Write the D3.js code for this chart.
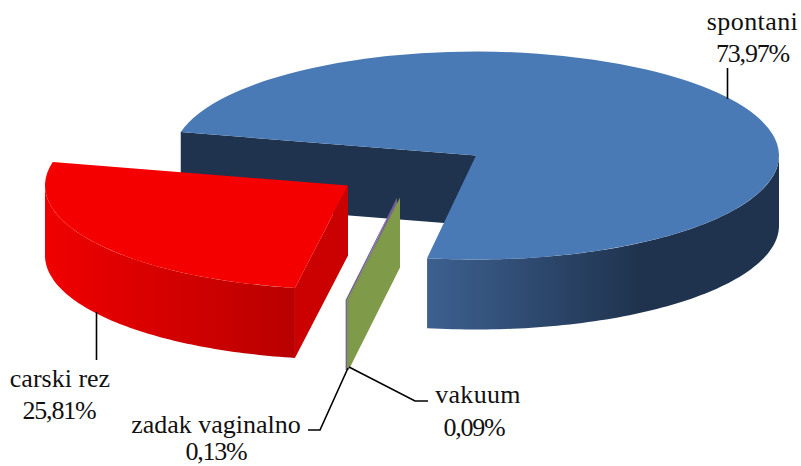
<!DOCTYPE html>
<html>
<head>
<meta charset="utf-8">
<script src="https://cdn.jsdelivr.net/npm/d3@7"></script>
<style>
  body { margin: 0; background: #fff; }
  text { font-family: "Liberation Serif", serif; font-size: 26px; fill: #111; text-anchor: middle; }
</style>
</head>
<body>
<div id="container"></div>
<script>
const categories = ['spontani', 'zadak vaginalno', 'vakuum', 'carski rez'];
const shares = [73.97, 0.13, 0.09, 25.81];
const shareLabels = ['73,97%', '0,13%', '0,09%', '25,81%'];

const width = 801;
const height = 466;

// pie geometry in px
const cx = 476;
const cy = 155.5;
const rx = 303;
const ry = 104;
const depth = 70;
const firstAngle = 283 * Math.PI / 180;

// how far each slice is pulled out, same order as categories
const explode = [[0, 0], [-79, 42], [-76, 42], [-128, 30]];
const topColor = ['#4a7ab5', '#75609a', '#7f9a48', '#f40000'];
const cutColor = ['#1f334e', '#75609a', '#7f9a48', '#cb0000'];

// label text position: [name x, name baseline, value x, value baseline, name letter spacing]
const labelPos = [
  [752.5, 30, 752.5, 62, 0.4],
  [216, 433, 216, 460, 0],
  [478, 403, 474, 436, 0.3],
  [60, 387, 59, 419, 0]
];
const leaders = [
  [[727.5, 68], [727.5, 99]],
  [[348, 368], [320, 430], [308, 430]],
  [[349, 367], [415, 401], [428, 401]],
  [[96.5, 312], [96.5, 360]]
];

let svg = d3.select('#container').append('svg')
  .attr('width', width)
  .attr('height', height);

let defs = svg.append('defs');

function wallGradient(id, x1, x2, from, to) {
  let g = defs.append('linearGradient')
    .attr('id', id)
    .attr('gradientUnits', 'userSpaceOnUse')
    .attr('x1', x1).attr('x2', x2)
    .attr('y1', 0).attr('y2', 0);
  g.append('stop').attr('offset', 0).attr('stop-color', from);
  g.append('stop').attr('offset', 1).attr('stop-color', to);
}
wallGradient('wall0', 427, 640, '#3d6090', '#1f334e');
wallGradient('wall3', 45, 297, '#f00000', '#b80000');

let pie = d3.pie().sort(null).value(d => d.share).startAngle(firstAngle).endAngle(firstAngle + 2 * Math.PI);
let slices = pie(categories.map((name, i) => ({ name: name, share: shares[i], index: i })));

let arc = d3.arc().innerRadius(0).outerRadius(rx);
let line = d3.line();

function rim(a, off) {
  return [cx + off[0] + Math.sin(a) * rx, cy + off[1] - Math.cos(a) * ry];
}

// part of the round side that faces the viewer (90deg..270deg)
function rimWall(s, off) {
  let pts = [];
  let turns = [0, 1, 2];
  turns.forEach(t => {
    let a0 = Math.max(s.startAngle, Math.PI / 2 + t * 2 * Math.PI);
    let a1 = Math.min(s.endAngle, 3 * Math.PI / 2 + t * 2 * Math.PI);
    if (a1 > a0) {
      for (let k = 0; k <= 80; k++) pts.push(rim(a0 + (a1 - a0) * k / 80, off));
    }
  });
  if (!pts.length) return null;
  let lower = pts.slice().reverse().map(p => [p[0], p[1] + depth]);
  return line(pts.concat(lower)) + 'Z';
}

function cutWall(s, off) {
  let a = [cx + off[0], cy + off[1]];
  let b = rim(s.startAngle, off);
  return line([a, b, [b[0], b[1] + depth], [a[0], a[1] + depth]]) + 'Z';
}

// blue first, then the thin ones, red last
let order = [0, 1, 2, 3];
order.forEach(i => {
  let s = slices[i];
  let off = explode[i];
  let g = svg.append('g').attr('class', 'slice');

  g.append('path')
    .attr('d', cutWall(s, off))
    .attr('fill', cutColor[i]);

  let w = rimWall(s, off);
  if (w) {
    g.append('path')
      .attr('d', w)
      .attr('fill', i == 0 || i == 3 ? 'url(#wall' + i + ')' : cutColor[i]);
  }

  g.append('path')
    .attr('d', arc(s))
    .attr('fill', topColor[i])
    .attr('transform', 'translate(' + (cx + off[0]) + ',' + (cy + off[1]) + ') scale(1,' + (ry / rx) + ')');
});

svg.selectAll('.leader').data(leaders).enter()
  .append('path')
  .attr('class', 'leader')
  .attr('d', d => line(d))
  .attr('fill', 'none')
  .attr('stroke', '#000')
  .attr('stroke-width', 1.6);

categories.forEach((name, i) => {
  let p = labelPos[i];
  svg.append('text').attr('x', p[0]).attr('y', p[1]).style('letter-spacing', p[4] + 'px').text(name);
  svg.append('text').attr('x', p[2]).attr('y', p[3]).style('letter-spacing', '-1.2px').text(shareLabels[i]);
});
</script>
</body>
</html>
